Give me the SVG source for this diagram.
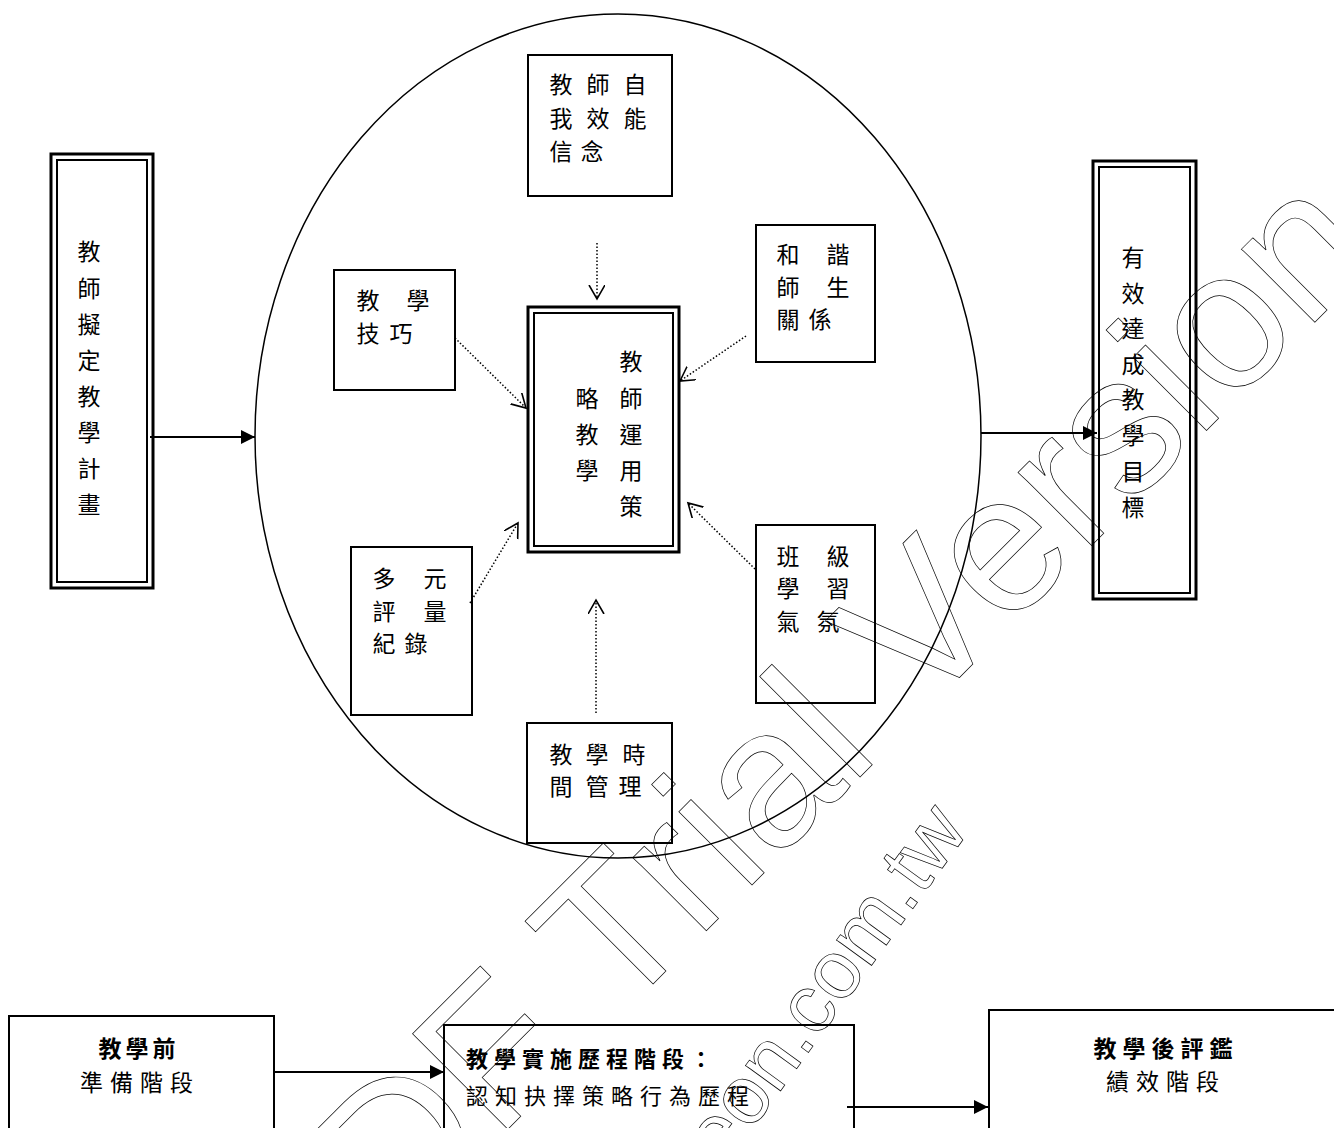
<svg xmlns="http://www.w3.org/2000/svg" width="1334" height="1128" viewBox="0 0 1334 1128">
<style>
.t{font-family:"Noto Sans CJK TC","Noto Sans CJK SC",sans-serif;font-size:23px;fill:#000;text-anchor:middle;dominant-baseline:central}
.tl{font-family:"Noto Sans CJK TC","Noto Sans CJK SC",sans-serif;font-size:22px;fill:#000;letter-spacing:7px}
.b{font-weight:bold}
.box{fill:#fff;stroke:#000;stroke-width:2}
.thick{fill:#fff;stroke:#000;stroke-width:3}
.thin{fill:none;stroke:#000;stroke-width:2}
.solid{stroke:#000;stroke-width:2;fill:none}
.dot{stroke:#000;stroke-width:1.5;fill:none;stroke-dasharray:1.5 2}
.wm{font-family:"Liberation Sans",Arial,sans-serif;fill:none;stroke:#000;stroke-width:0.7}
</style>
<defs>
<marker id="fa" markerUnits="userSpaceOnUse" markerWidth="16" markerHeight="14" refX="14" refY="7" orient="auto"><path d="M0,0 L14,7 L0,14 Z" fill="#000"/></marker>
<marker id="oa" markerUnits="userSpaceOnUse" markerWidth="20" markerHeight="20" refX="14" refY="8" orient="auto"><path d="M0,0 L14,8 L0,16" fill="none" stroke="#000" stroke-width="1.6"/></marker>
</defs>
<rect width="1334" height="1128" fill="#fff"/>

<ellipse cx="618" cy="436" rx="363" ry="422" fill="none" stroke="#000" stroke-width="1.5"/>

<g id="n-plan">
<rect class="thick" x="51" y="154" width="102" height="434"/>
<rect class="thin" x="57" y="160" width="90" height="422"/>
<text class="t" x="89"><tspan x="89" y="250">教</tspan><tspan x="89" y="287">師</tspan><tspan x="89" y="323">擬</tspan><tspan x="89" y="359">定</tspan><tspan x="89" y="395">教</tspan><tspan x="89" y="431">學</tspan><tspan x="89" y="467">計</tspan><tspan x="89" y="503">畫</tspan></text>
</g>

<g id="n-efficacy">
<rect class="box" x="528" y="55" width="144" height="141"/>
<text class="t"><tspan x="561" y="83">教</tspan><tspan x="598" y="83">師</tspan><tspan x="635" y="83">自</tspan><tspan x="561" y="117">我</tspan><tspan x="598" y="117">效</tspan><tspan x="635" y="117">能</tspan><tspan x="561" y="150">信</tspan><tspan x="592" y="150">念</tspan></text>
</g>

<g id="n-skill">
<rect class="box" x="334" y="270" width="121" height="120"/>
<text class="t"><tspan x="368" y="299">教</tspan><tspan x="418" y="299">學</tspan><tspan x="368" y="332">技</tspan><tspan x="401" y="332">巧</tspan></text>
</g>

<g id="n-center">
<rect class="thick" x="528" y="307" width="151" height="245"/>
<rect class="thin" x="534" y="313" width="139" height="233"/>
<text class="t"><tspan x="631" y="360">教</tspan><tspan x="631" y="397">師</tspan><tspan x="631" y="433">運</tspan><tspan x="631" y="469">用</tspan><tspan x="631" y="505">策</tspan><tspan x="587" y="397">略</tspan><tspan x="587" y="433">教</tspan><tspan x="587" y="469">學</tspan></text>
</g>

<g id="n-relation">
<rect class="box" x="756" y="225" width="119" height="137"/>
<text class="t"><tspan x="788" y="253">和</tspan><tspan x="838" y="253">諧</tspan><tspan x="788" y="286">師</tspan><tspan x="838" y="286">生</tspan><tspan x="788" y="318">關</tspan><tspan x="820" y="318">係</tspan></text>
</g>

<g id="n-assess">
<rect class="box" x="351" y="547" width="121" height="168"/>
<text class="t"><tspan x="384" y="577">多</tspan><tspan x="435" y="577">元</tspan><tspan x="384" y="610">評</tspan><tspan x="435" y="610">量</tspan><tspan x="384" y="642">紀</tspan><tspan x="416" y="642">錄</tspan></text>
</g>

<g id="n-climate">
<rect class="box" x="756" y="525" width="119" height="178"/>
<text class="t"><tspan x="788" y="555">班</tspan><tspan x="838" y="555">級</tspan><tspan x="788" y="587">學</tspan><tspan x="838" y="587">習</tspan><tspan x="788" y="620">氣</tspan><tspan x="828" y="620">氛</tspan></text>
</g>

<g id="n-time">
<rect class="box" x="527" y="723" width="145" height="120"/>
<text class="t"><tspan x="561" y="753">教</tspan><tspan x="597" y="753">學</tspan><tspan x="634" y="753">時</tspan><tspan x="561" y="785">間</tspan><tspan x="597" y="785">管</tspan><tspan x="630" y="785">理</tspan></text>
</g>

<g id="n-goal">
<rect class="thick" x="1093" y="161" width="103" height="438"/>
<rect class="thin" x="1099" y="167" width="91" height="426"/>
<text class="t"><tspan x="1133" y="256">有</tspan><tspan x="1133" y="292">效</tspan><tspan x="1133" y="327">達</tspan><tspan x="1133" y="363">成</tspan><tspan x="1133" y="398">教</tspan><tspan x="1133" y="434">學</tspan><tspan x="1133" y="470">目</tspan><tspan x="1133" y="506">標</tspan></text>
</g>

<g id="n-before">
<rect class="box" x="9" y="1016" width="265" height="130"/>
<text class="t b" x="139" y="1047" style="letter-spacing:4px">教學前</text>
<text class="t" x="140" y="1081" style="letter-spacing:7px">準備階段</text>
</g>

<g id="n-during">
<rect class="box" x="444" y="1025" width="410" height="130"/>
<text class="tl b" x="466" y="1067" style="letter-spacing:6px">教學實施歷程階段：</text>
<text class="tl" x="466" y="1104">認知抉擇策略行為歷程</text>
</g>

<g id="n-after">
<rect class="box" x="989" y="1010" width="360" height="140"/>
<text class="t b" x="1166" y="1047" style="letter-spacing:6px">教學後評鑑</text>
<text class="t" x="1166" y="1080" style="letter-spacing:7px">績效階段</text>
</g>

<g id="connectors">
<line class="solid" x1="150" y1="437" x2="255" y2="437" marker-end="url(#fa)"/>
<line class="solid" x1="981" y1="433" x2="1097" y2="433" marker-end="url(#fa)"/>
<line class="dot" x1="597" y1="243" x2="597" y2="299" marker-end="url(#oa)"/>
<line class="dot" x1="455" y1="338" x2="526" y2="408" marker-end="url(#oa)"/>
<line class="dot" x1="746" y1="336" x2="680" y2="381" marker-end="url(#oa)"/>
<line class="dot" x1="470" y1="603" x2="518" y2="523" marker-end="url(#oa)"/>
<line class="dot" x1="755" y1="569" x2="688" y2="503" marker-end="url(#oa)"/>
<line class="dot" x1="596" y1="713" x2="596" y2="600" marker-end="url(#oa)"/>
<line class="solid" x1="274" y1="1072" x2="444" y2="1072" marker-end="url(#fa)"/>
<line class="solid" x1="847" y1="1107" x2="988" y2="1107" marker-end="url(#fa)"/>
</g>

<g id="watermark">
<text class="wm" font-size="196" transform="translate(304,1333) rotate(-45)">PDF Trial Version</text>
<text class="wm" font-size="82" text-anchor="end" transform="translate(970,830) rotate(-54)">eon.com.tw</text>
</g>
</svg>
